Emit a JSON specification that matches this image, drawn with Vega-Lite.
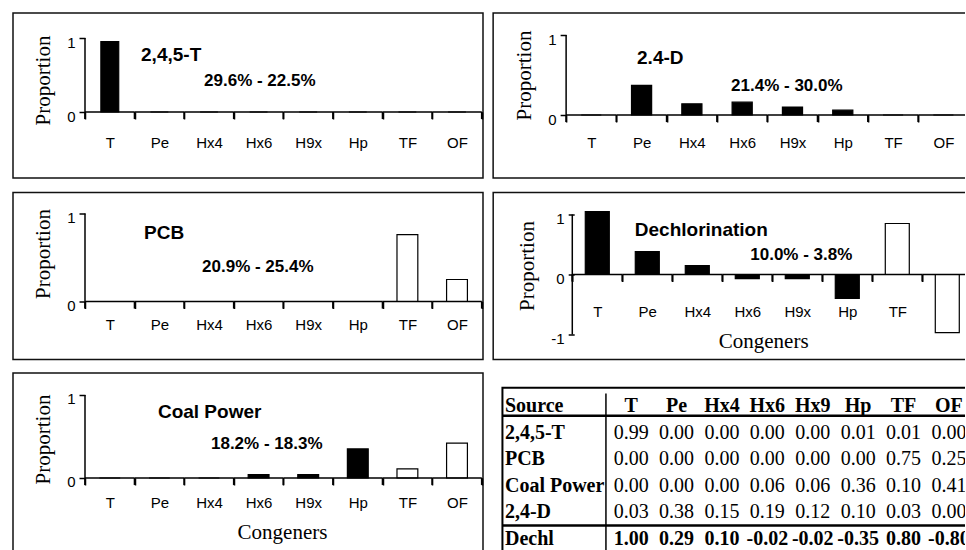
{
  "$schema": "https://vega.github.io/schema/vega-lite/v6.json",
  "background": "white",
  "padding": {"left": 12, "top": 12, "right": -29, "bottom": -8},
  "datasets": {
    "bars": [
      {"panel": "2,4,5-T", "congener": "T", "proportion": 0.95},
      {"panel": "2,4,5-T", "congener": "Pe", "proportion": 0},
      {"panel": "2,4,5-T", "congener": "Hx4", "proportion": 0},
      {"panel": "2,4,5-T", "congener": "Hx6", "proportion": 0},
      {"panel": "2,4,5-T", "congener": "H9x", "proportion": 0},
      {"panel": "2,4,5-T", "congener": "Hp", "proportion": 0},
      {"panel": "2,4,5-T", "congener": "TF", "proportion": 0},
      {"panel": "2,4,5-T", "congener": "OF", "proportion": 0},
      {"panel": "2.4-D", "congener": "T", "proportion": 0},
      {"panel": "2.4-D", "congener": "Pe", "proportion": 0.37},
      {"panel": "2.4-D", "congener": "Hx4", "proportion": 0.14},
      {"panel": "2.4-D", "congener": "Hx6", "proportion": 0.16},
      {"panel": "2.4-D", "congener": "H9x", "proportion": 0.1},
      {"panel": "2.4-D", "congener": "Hp", "proportion": 0.06},
      {"panel": "2.4-D", "congener": "TF", "proportion": 0},
      {"panel": "2.4-D", "congener": "OF", "proportion": 0},
      {"panel": "PCB", "congener": "T", "proportion": 0},
      {"panel": "PCB", "congener": "Pe", "proportion": 0},
      {"panel": "PCB", "congener": "Hx4", "proportion": 0},
      {"panel": "PCB", "congener": "Hx6", "proportion": 0},
      {"panel": "PCB", "congener": "H9x", "proportion": 0},
      {"panel": "PCB", "congener": "Hp", "proportion": 0},
      {"panel": "PCB", "congener": "TF", "proportion": 0.76},
      {"panel": "PCB", "congener": "OF", "proportion": 0.25},
      {"panel": "Dechlorination", "congener": "T", "proportion": 1.05},
      {"panel": "Dechlorination", "congener": "Pe", "proportion": 0.38},
      {"panel": "Dechlorination", "congener": "Hx4", "proportion": 0.15},
      {"panel": "Dechlorination", "congener": "Hx6", "proportion": -0.07},
      {"panel": "Dechlorination", "congener": "H9x", "proportion": -0.07},
      {"panel": "Dechlorination", "congener": "Hp", "proportion": -0.4},
      {"panel": "Dechlorination", "congener": "TF", "proportion": 0.85},
      {"panel": "Dechlorination", "congener": "OF", "proportion": -0.97},
      {"panel": "Coal Power", "congener": "T", "proportion": 0},
      {"panel": "Coal Power", "congener": "Pe", "proportion": 0},
      {"panel": "Coal Power", "congener": "Hx4", "proportion": 0},
      {"panel": "Coal Power", "congener": "Hx6", "proportion": 0.04},
      {"panel": "Coal Power", "congener": "H9x", "proportion": 0.04},
      {"panel": "Coal Power", "congener": "Hp", "proportion": 0.35},
      {"panel": "Coal Power", "congener": "TF", "proportion": 0.11},
      {"panel": "Coal Power", "congener": "OF", "proportion": 0.42}
    ],
    "table": [
      {"source": "2,4,5-T", "congener": "T", "value": "0.99"},
      {"source": "2,4,5-T", "congener": "Pe", "value": "0.00"},
      {"source": "2,4,5-T", "congener": "Hx4", "value": "0.00"},
      {"source": "2,4,5-T", "congener": "Hx6", "value": "0.00"},
      {"source": "2,4,5-T", "congener": "Hx9", "value": "0.00"},
      {"source": "2,4,5-T", "congener": "Hp", "value": "0.01"},
      {"source": "2,4,5-T", "congener": "TF", "value": "0.01"},
      {"source": "2,4,5-T", "congener": "OF", "value": "0.00"},
      {"source": "PCB", "congener": "T", "value": "0.00"},
      {"source": "PCB", "congener": "Pe", "value": "0.00"},
      {"source": "PCB", "congener": "Hx4", "value": "0.00"},
      {"source": "PCB", "congener": "Hx6", "value": "0.00"},
      {"source": "PCB", "congener": "Hx9", "value": "0.00"},
      {"source": "PCB", "congener": "Hp", "value": "0.00"},
      {"source": "PCB", "congener": "TF", "value": "0.75"},
      {"source": "PCB", "congener": "OF", "value": "0.25"},
      {"source": "Coal Power", "congener": "T", "value": "0.00"},
      {"source": "Coal Power", "congener": "Pe", "value": "0.00"},
      {"source": "Coal Power", "congener": "Hx4", "value": "0.00"},
      {"source": "Coal Power", "congener": "Hx6", "value": "0.06"},
      {"source": "Coal Power", "congener": "Hx9", "value": "0.06"},
      {"source": "Coal Power", "congener": "Hp", "value": "0.36"},
      {"source": "Coal Power", "congener": "TF", "value": "0.10"},
      {"source": "Coal Power", "congener": "OF", "value": "0.41"},
      {"source": "2,4-D", "congener": "T", "value": "0.03"},
      {"source": "2,4-D", "congener": "Pe", "value": "0.38"},
      {"source": "2,4-D", "congener": "Hx4", "value": "0.15"},
      {"source": "2,4-D", "congener": "Hx6", "value": "0.19"},
      {"source": "2,4-D", "congener": "Hx9", "value": "0.12"},
      {"source": "2,4-D", "congener": "Hp", "value": "0.10"},
      {"source": "2,4-D", "congener": "TF", "value": "0.03"},
      {"source": "2,4-D", "congener": "OF", "value": "0.00"},
      {"source": "Dechl", "congener": "T", "value": "1.00"},
      {"source": "Dechl", "congener": "Pe", "value": "0.29"},
      {"source": "Dechl", "congener": "Hx4", "value": "0.10"},
      {"source": "Dechl", "congener": "Hx6", "value": "-0.02"},
      {"source": "Dechl", "congener": "Hx9", "value": "-0.02"},
      {"source": "Dechl", "congener": "Hp", "value": "-0.35"},
      {"source": "Dechl", "congener": "TF", "value": "0.80"},
      {"source": "Dechl", "congener": "OF", "value": "-0.80"}
    ]
  },
  "spacing": 8,
  "hconcat": [
    {
      "spacing": 12.5,
      "vconcat": [
        {
          "width": 470, "height": 165,
          "layer": [
            {
              "data": {"name": "bars"},
              "transform": [{"filter": "datum.panel === '2,4,5-T'"}],
              "mark": {"type": "bar", "width": {"band": 0.36}, "stroke": "black", "strokeWidth": 1.2},
              "encoding": {
                "x": {"field": "congener", "type": "nominal", "sort": null,
                  "scale": {"type": "band", "domain": ["T", "Pe", "Hx4", "Hx6", "H9x", "Hp", "TF", "OF"], "paddingInner": 0, "paddingOuter": 0.7379, "align": 0.9836},
                  "axis": {"orient": "bottom", "offset": -66, "domain": false, "tickBand": "extent", "tickSize": 7, "labelAngle": 0, "labelPadding": 16, "title": null}},
                "y": {"field": "proportion", "type": "quantitative",
                  "scale": {"domain": [-0.892, 1.338], "nice": false, "zero": false},
                  "axis": {"orient": "left", "offset": -72, "values": [0, 1], "format": "d", "domain": false, "tickSize": 6, "labelPadding": 4, "labelOffset": 4, "title": "Proportion", "titlePadding": 13, "titleY": 67}},
                "fill": {"condition": {"test": "datum.congener === 'TF' || datum.congener === 'OF'", "value": "white"}, "value": "black"}
              }
            },
            {
              "data": {"name": "bars"},
              "transform": [{"filter": "datum.panel === '2,4,5-T'"}],
              "mark": {"type": "bar", "fillOpacity": 0, "stroke": "black", "strokeWidth": 1.5},
              "encoding": {"x": {"field": "congener", "type": "nominal", "sort": null}, "y": {"datum": 0}, "y2": {"datum": 0}}
            },
            {
              "data": {"name": "bars"},
              "transform": [{"filter": "datum.panel === '2,4,5-T'"}],
              "mark": {"type": "rule", "stroke": "black", "strokeWidth": 1.8},
              "encoding": {"x": {"field": "congener", "type": "nominal", "sort": null, "bandPosition": 0}, "y": {"datum": 0}, "y2": {"datum": -0.095}}
            },
            {
              "data": {"values": [{}]},
              "mark": {"type": "rule", "stroke": "black", "strokeWidth": 1.8},
              "encoding": {"x": {"datum": "OF", "bandPosition": 1}, "y": {"datum": 0}, "y2": {"datum": -0.095}}
            },
            {
              "data": {"values": [{}]},
              "mark": {"type": "rule", "stroke": "black", "strokeWidth": 1.5},
              "encoding": {"x": {"datum": "T", "bandPosition": 0}, "y": {"datum": 0}, "y2": {"datum": 1}}
            },
            {
              "data": {"values": [{}]},
              "mark": {"type": "text", "text": "2,4,5-T", "align": "left", "baseline": "middle", "font": "Liberation Sans", "fontSize": 19, "fontWeight": "bold", "color": "black"},
              "encoding": {"x": {"datum": "Pe", "bandPosition": 0.13}, "y": {"datum": 0.77}}
            },
            {
              "data": {"values": [{}]},
              "mark": {"type": "text", "text": "29.6% - 22.5%", "align": "left", "baseline": "middle", "font": "Liberation Sans", "fontSize": 17, "fontWeight": "bold", "color": "black"},
              "encoding": {"x": {"datum": "Hx4", "bandPosition": 0.4}, "y": {"datum": 0.42}}
            }
          ]
        },
        {
          "spacing": 11.5,
          "vconcat": [
            {
              "width": 470, "height": 167,
              "layer": [
                {
                  "data": {"name": "bars"},
                  "transform": [{"filter": "datum.panel === 'PCB'"}],
                  "mark": {"type": "bar", "width": {"band": 0.42}, "stroke": "black", "strokeWidth": 1.2},
                  "encoding": {
                    "x": {"field": "congener", "type": "nominal", "sort": null,
                      "scale": {"type": "band", "domain": ["T", "Pe", "Hx4", "Hx6", "H9x", "Hp", "TF", "OF"], "paddingInner": 0, "paddingOuter": 0.7379, "align": 0.9836},
                      "axis": {"orient": "bottom", "offset": -58, "domain": false, "tickBand": "extent", "tickSize": 7, "labelAngle": 0, "labelPadding": 9, "title": null}},
                    "y": {"field": "proportion", "type": "quantitative",
                      "scale": {"domain": [-0.659, 1.239], "nice": false, "zero": false},
                      "axis": {"orient": "left", "offset": -72, "values": [0, 1], "format": "d", "domain": false, "tickSize": 6, "labelPadding": 4, "labelOffset": 4, "title": "Proportion", "titlePadding": 13, "titleY": 61}},
                    "fill": {"condition": {"test": "datum.congener === 'TF' || datum.congener === 'OF'", "value": "white"}, "value": "black"}
                  }
                },
                {
                  "data": {"name": "bars"},
                  "transform": [{"filter": "datum.panel === 'PCB'"}],
                  "mark": {"type": "bar", "fillOpacity": 0, "stroke": "black", "strokeWidth": 1.5},
                  "encoding": {"x": {"field": "congener", "type": "nominal", "sort": null}, "y": {"datum": 0}, "y2": {"datum": 0}}
                },
                {
                  "data": {"name": "bars"},
                  "transform": [{"filter": "datum.panel === 'PCB'"}],
                  "mark": {"type": "rule", "stroke": "black", "strokeWidth": 1.8},
                  "encoding": {"x": {"field": "congener", "type": "nominal", "sort": null, "bandPosition": 0}, "y": {"datum": 0}, "y2": {"datum": -0.08}}
                },
                {
                  "data": {"values": [{}]},
                  "mark": {"type": "rule", "stroke": "black", "strokeWidth": 1.8},
                  "encoding": {"x": {"datum": "OF", "bandPosition": 1}, "y": {"datum": 0}, "y2": {"datum": -0.08}}
                },
                {
                  "data": {"values": [{}]},
                  "mark": {"type": "rule", "stroke": "black", "strokeWidth": 1.5},
                  "encoding": {"x": {"datum": "T", "bandPosition": 0}, "y": {"datum": 0}, "y2": {"datum": 1}}
                },
                {
                  "data": {"values": [{}]},
                  "mark": {"type": "text", "text": "PCB", "align": "left", "baseline": "middle", "font": "Liberation Sans", "fontSize": 19, "fontWeight": "bold", "color": "black"},
                  "encoding": {"x": {"datum": "Pe", "bandPosition": 0.19}, "y": {"datum": 0.78}}
                },
                {
                  "data": {"values": [{}]},
                  "mark": {"type": "text", "text": "20.9% - 25.4%", "align": "left", "baseline": "middle", "font": "Liberation Sans", "fontSize": 17, "fontWeight": "bold", "color": "black"},
                  "encoding": {"x": {"datum": "Hx4", "bandPosition": 0.36}, "y": {"datum": 0.39}}
                }
              ]
            },
            {
              "width": 470, "height": 184,
              "layer": [
                {
                  "data": {"name": "bars"},
                  "transform": [{"filter": "datum.panel === 'Coal Power'"}],
                  "mark": {"type": "bar", "width": {"band": 0.42}, "stroke": "black", "strokeWidth": 1.2},
                  "encoding": {
                    "x": {"field": "congener", "type": "nominal", "sort": null,
                      "scale": {"type": "band", "domain": ["T", "Pe", "Hx4", "Hx6", "H9x", "Hp", "TF", "OF"], "paddingInner": 0, "paddingOuter": 0.7379, "align": 0.9836},
                      "axis": {"orient": "bottom", "offset": -79, "domain": false, "tickBand": "extent", "tickSize": 7, "labelAngle": 0, "labelPadding": 10, "title": "Congeners", "titlePadding": 11, "titleX": 269}},
                    "y": {"field": "proportion", "type": "quantitative",
                      "scale": {"domain": [-0.952, 1.265], "nice": false, "zero": false},
                      "axis": {"orient": "left", "offset": -72, "values": [0, 1], "format": "d", "domain": false, "tickSize": 6, "labelPadding": 4, "labelOffset": 4, "title": "Proportion", "titlePadding": 13, "titleY": 66}},
                    "fill": {"condition": {"test": "datum.congener === 'TF' || datum.congener === 'OF'", "value": "white"}, "value": "black"}
                  }
                },
                {
                  "data": {"name": "bars"},
                  "transform": [{"filter": "datum.panel === 'Coal Power'"}],
                  "mark": {"type": "bar", "fillOpacity": 0, "stroke": "black", "strokeWidth": 1.5},
                  "encoding": {"x": {"field": "congener", "type": "nominal", "sort": null}, "y": {"datum": 0}, "y2": {"datum": 0}}
                },
                {
                  "data": {"name": "bars"},
                  "transform": [{"filter": "datum.panel === 'Coal Power'"}],
                  "mark": {"type": "rule", "stroke": "black", "strokeWidth": 1.8},
                  "encoding": {"x": {"field": "congener", "type": "nominal", "sort": null, "bandPosition": 0}, "y": {"datum": 0}, "y2": {"datum": -0.084}}
                },
                {
                  "data": {"values": [{}]},
                  "mark": {"type": "rule", "stroke": "black", "strokeWidth": 1.8},
                  "encoding": {"x": {"datum": "OF", "bandPosition": 1}, "y": {"datum": 0}, "y2": {"datum": -0.084}}
                },
                {
                  "data": {"values": [{}]},
                  "mark": {"type": "rule", "stroke": "black", "strokeWidth": 1.5},
                  "encoding": {"x": {"datum": "T", "bandPosition": 0}, "y": {"datum": 0}, "y2": {"datum": 1}}
                },
                {
                  "data": {"values": [{}]},
                  "mark": {"type": "text", "text": "Coal Power", "align": "left", "baseline": "middle", "font": "Liberation Sans", "fontSize": 19, "fontWeight": "bold", "color": "black"},
                  "encoding": {"x": {"datum": "Pe", "bandPosition": 0.47}, "y": {"datum": 0.795}}
                },
                {
                  "data": {"values": [{}]},
                  "mark": {"type": "text", "text": "18.2% - 18.3%", "align": "left", "baseline": "middle", "font": "Liberation Sans", "fontSize": 17, "fontWeight": "bold", "color": "black"},
                  "encoding": {"x": {"datum": "Hx4", "bandPosition": 0.54}, "y": {"datum": 0.41}}
                }
              ]
            }
          ]
        }
      ]
    },
    {
      "spacing": 12.5,
      "center": true,
      "vconcat": [
        {
          "width": 500, "height": 165,
          "layer": [
            {
              "data": {"name": "bars"},
              "transform": [{"filter": "datum.panel === '2.4-D'"}],
              "mark": {"type": "bar", "width": {"band": 0.4}, "stroke": "black", "strokeWidth": 1.2},
              "encoding": {
                "x": {"field": "congener", "type": "nominal", "sort": null,
                  "scale": {"type": "band", "domain": ["T", "Pe", "Hx4", "Hx6", "H9x", "Hp", "TF", "OF"], "paddingInner": 0, "paddingOuter": 0.970, "align": 0.748},
                  "axis": {"orient": "bottom", "offset": -63, "domain": false, "tickBand": "extent", "tickSize": 7, "labelAngle": 0, "labelPadding": 13, "title": null}},
                "y": {"field": "proportion", "type": "quantitative",
                  "scale": {"domain": [-0.7875, 1.275], "nice": false, "zero": false},
                  "axis": {"orient": "left", "offset": -73, "values": [0, 1], "format": "d", "domain": false, "tickSize": 6, "labelPadding": 4, "labelOffset": 4, "title": "Proportion", "titlePadding": 13, "titleY": 62}},
                "fill": {"condition": {"test": "datum.congener === 'TF' || datum.congener === 'OF'", "value": "white"}, "value": "black"}
              }
            },
            {
              "data": {"name": "bars"},
              "transform": [{"filter": "datum.panel === '2.4-D'"}],
              "mark": {"type": "bar", "fillOpacity": 0, "stroke": "black", "strokeWidth": 1.5},
              "encoding": {"x": {"field": "congener", "type": "nominal", "sort": null}, "y": {"datum": 0}, "y2": {"datum": 0}}
            },
            {
              "data": {"name": "bars"},
              "transform": [{"filter": "datum.panel === '2.4-D'"}],
              "mark": {"type": "rule", "stroke": "black", "strokeWidth": 1.8},
              "encoding": {"x": {"field": "congener", "type": "nominal", "sort": null, "bandPosition": 0}, "y": {"datum": 0}, "y2": {"datum": -0.088}}
            },
            {
              "data": {"values": [{}]},
              "mark": {"type": "rule", "stroke": "black", "strokeWidth": 1.8},
              "encoding": {"x": {"datum": "OF", "bandPosition": 1}, "y": {"datum": 0}, "y2": {"datum": -0.088}}
            },
            {
              "data": {"values": [{}]},
              "mark": {"type": "rule", "stroke": "black", "strokeWidth": 1.5},
              "encoding": {"x": {"datum": "T", "bandPosition": 0}, "y": {"datum": 0}, "y2": {"datum": 1}}
            },
            {
              "data": {"values": [{}]},
              "mark": {"type": "text", "text": "2.4-D", "align": "left", "baseline": "middle", "font": "Liberation Sans", "fontSize": 19, "fontWeight": "bold", "color": "black"},
              "encoding": {"x": {"datum": "Pe", "bandPosition": 0.41}, "y": {"datum": 0.71}}
            },
            {
              "data": {"values": [{}]},
              "mark": {"type": "text", "text": "21.4% - 30.0%", "align": "left", "baseline": "middle", "font": "Liberation Sans", "fontSize": 17, "fontWeight": "bold", "color": "black"},
              "encoding": {"x": {"datum": "Hx6", "bandPosition": 0.28}, "y": {"datum": 0.36}}
            }
          ]
        },
        {
          "spacing": 26.25,
          "center": true,
          "vconcat": [
            {
              "width": 500, "height": 167,
              "layer": [
                {
                  "data": {"name": "bars"},
                  "transform": [{"filter": "datum.panel === 'Dechlorination'"}],
                  "mark": {"type": "bar", "width": {"band": 0.48}, "stroke": "black", "strokeWidth": 1.2},
                  "encoding": {
                    "x": {"field": "congener", "type": "nominal", "sort": null,
                      "scale": {"type": "band", "domain": ["T", "Pe", "Hx4", "Hx6", "H9x", "Hp", "TF", "OF"], "paddingInner": 0, "paddingOuter": 1.030, "align": 0.791},
                      "axis": {"orient": "bottom", "offset": -85, "domain": false, "tickBand": "extent", "tickSize": 7, "labelAngle": 0, "labelPadding": 23, "title": "Congeners", "titlePadding": 11, "titleX": 270}},
                    "y": {"field": "proportion", "type": "quantitative",
                      "scale": {"domain": [-1.417, 1.367], "nice": false, "zero": false},
                      "axis": {"orient": "left", "offset": -81, "values": [-1, 0, 1], "format": "d", "labelExpr": "datum.value < 0 ? '-1' : datum.label", "domain": false, "tickSize": 6, "labelPadding": 4, "labelOffset": 4, "title": "Proportion", "titlePadding": 13, "titleY": 73}},
                    "fill": {"condition": {"test": "datum.congener === 'TF' || datum.congener === 'OF'", "value": "white"}, "value": "black"}
                  }
                },
                {
                  "data": {"name": "bars"},
                  "transform": [{"filter": "datum.panel === 'Dechlorination'"}],
                  "mark": {"type": "bar", "fillOpacity": 0, "stroke": "black", "strokeWidth": 1.5},
                  "encoding": {"x": {"field": "congener", "type": "nominal", "sort": null}, "y": {"datum": 0}, "y2": {"datum": 0}}
                },
                {
                  "data": {"name": "bars"},
                  "transform": [{"filter": "datum.panel === 'Dechlorination'"}],
                  "mark": {"type": "rule", "stroke": "black", "strokeWidth": 1.8},
                  "encoding": {"x": {"field": "congener", "type": "nominal", "sort": null, "bandPosition": 0}, "y": {"datum": 0}, "y2": {"datum": -0.117}}
                },
                {
                  "data": {"values": [{}]},
                  "mark": {"type": "rule", "stroke": "black", "strokeWidth": 1.5},
                  "encoding": {"x": {"datum": "T", "bandPosition": 0}, "y": {"datum": -1}, "y2": {"datum": 1}}
                },
                {
                  "data": {"values": [{}]},
                  "mark": {"type": "text", "text": "Dechlorination", "align": "left", "baseline": "middle", "font": "Liberation Sans", "fontSize": 19, "fontWeight": "bold", "color": "black"},
                  "encoding": {"x": {"datum": "Pe", "bandPosition": 0.25}, "y": {"datum": 0.75}}
                },
                {
                  "data": {"values": [{}]},
                  "mark": {"type": "text", "text": "10.0% - 3.8%", "align": "left", "baseline": "middle", "font": "Liberation Sans", "fontSize": 17, "fontWeight": "bold", "color": "black"},
                  "encoding": {"x": {"datum": "Hx6", "bandPosition": 0.56}, "y": {"datum": 0.33}}
                }
              ]
            },
            {
              "width": 480, "height": 170,
              "view": {"stroke": "black", "strokeWidth": 2},
              "layer": [
                {
                  "data": {"name": "table"},
                  "transform": [{"filter": "datum.source !== 'Dechl'"}],
                  "mark": {"type": "text", "font": "Liberation Serif", "fontSize": 20, "color": "black"},
                  "encoding": {
                    "x": {"field": "congener", "type": "nominal", "sort": null,
                      "scale": {"type": "band", "domain": ["T", "Pe", "Hx4", "Hx6", "Hx9", "Hp", "TF", "OF"], "paddingInner": 0, "paddingOuter": 0, "range": [106, 469.2]},
                      "axis": null},
                    "y": {"field": "source", "type": "nominal", "sort": null,
                      "scale": {"type": "band", "domain": ["Source", "2,4,5-T", "PCB", "Coal Power", "2,4-D", "Dechl"], "paddingInner": 0, "paddingOuter": 0, "range": [5.2, 164.4]},
                      "axis": {"orient": "left", "offset": -103, "domain": true, "domainWidth": 1.5, "ticks": false, "tickSize": 0, "labelAlign": "left", "labelBaseline": "middle", "labelPadding": 101, "labelFont": "Liberation Serif", "labelFontSize": 20, "labelFontWeight": "bold", "title": null}},
                    "text": {"field": "value"}
                  }
                },
                {
                  "data": {"name": "table"},
                  "transform": [{"filter": "datum.source === 'Dechl'"}],
                  "mark": {"type": "text", "font": "Liberation Serif", "fontSize": 20, "fontWeight": "bold", "color": "black"},
                  "encoding": {
                    "x": {"field": "congener", "type": "nominal", "sort": null},
                    "y": {"field": "source", "type": "nominal", "sort": null},
                    "text": {"field": "value"}
                  }
                },
                {
                  "data": {"name": "table"},
                  "transform": [{"filter": "datum.source === '2,4,5-T'"}],
                  "mark": {"type": "text", "font": "Liberation Serif", "fontSize": 20, "fontWeight": "bold", "color": "black"},
                  "encoding": {
                    "x": {"field": "congener", "type": "nominal", "sort": null},
                    "y": {"datum": "Source"},
                    "text": {"field": "congener"}
                  }
                },
                {
                  "data": {"values": [{}]},
                  "mark": {"type": "rule", "stroke": "black", "strokeWidth": 2.5},
                  "encoding": {"y": {"datum": "2,4,5-T", "bandPosition": -0.14}}
                },
                {
                  "data": {"values": [{}]},
                  "mark": {"type": "rule", "stroke": "black", "strokeWidth": 2.5},
                  "encoding": {"y": {"datum": "Dechl", "bandPosition": 0}}
                }
              ]
            }
          ]
        }
      ]
    }
  ],
  "config": {
    "view": {"stroke": "#111111", "strokeWidth": 1.5},
    "axis": {
      "grid": false,
      "labelFont": "Liberation Sans", "labelFontSize": 15, "labelColor": "black",
      "tickColor": "black", "tickWidth": 1.5, "domainColor": "black",
      "titleFont": "Liberation Serif", "titleFontSize": 21, "titleFontWeight": "normal", "titleColor": "black"
    }
  }
}
